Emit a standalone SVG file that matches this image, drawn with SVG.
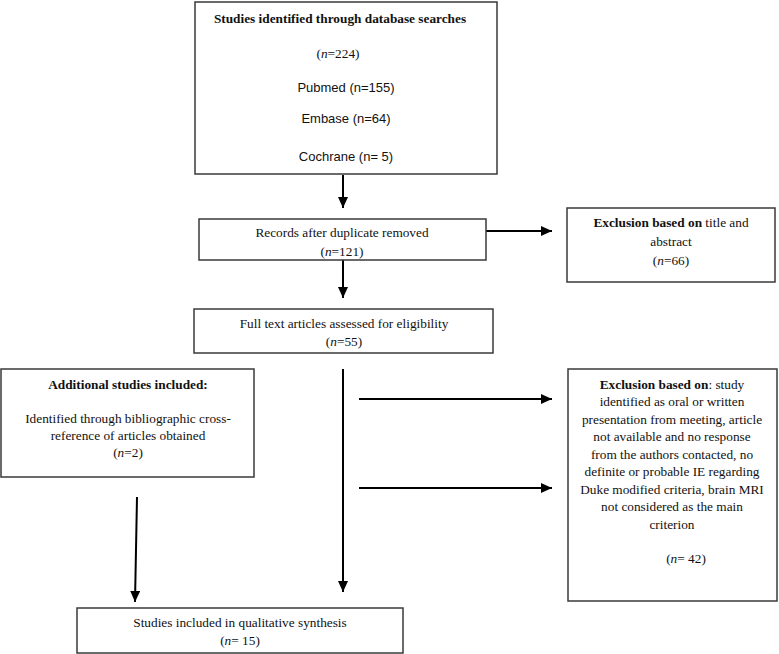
<svg xmlns="http://www.w3.org/2000/svg" width="779" height="654" viewBox="0 0 779 654">
<style>
.box{fill:#fff;stroke:#3a3a3a;stroke-width:1.5}
.t{font-family:"Liberation Serif","Times New Roman",serif;font-size:13.3px;fill:#111;text-anchor:middle}
.b{font-weight:bold}
.s{font-family:"Liberation Sans",Arial,sans-serif;font-size:13px;fill:#111;text-anchor:middle}
.c{stroke:#000;stroke-width:2;fill:none}
</style>
<defs>
<marker id="ah" markerUnits="userSpaceOnUse" markerWidth="11" markerHeight="10" refX="11" refY="5" orient="auto"><path d="M0,0 L11,5 L0,10 z" fill="#000"/></marker>
</defs>
<rect width="779" height="654" fill="#fff"/>
<g id="connectors">
<line class="c" x1="343" y1="175" x2="343" y2="208" marker-end="url(#ah)"/>
<line class="c" x1="486" y1="231" x2="552" y2="231" marker-end="url(#ah)"/>
<line class="c" x1="343" y1="260" x2="343" y2="298" marker-end="url(#ah)"/>
<line class="c" x1="343" y1="369" x2="343" y2="592" marker-end="url(#ah)"/>
<line class="c" x1="359" y1="399" x2="552" y2="399" marker-end="url(#ah)"/>
<line class="c" x1="359" y1="488" x2="552" y2="488" marker-end="url(#ah)"/>
<line class="c" x1="137" y1="497" x2="135" y2="602" marker-end="url(#ah)"/>
</g>
<g id="identified">
<rect class="box" x="195" y="2" width="302" height="172"/>
<text class="t b" x="340" y="23" font-size="13.8">Studies identified through database searches</text>
<text class="t" x="338" y="58">(<tspan font-style="italic">n</tspan>=224)</text>
<text class="s" x="346" y="92">Pubmed (n=155)</text>
<text class="s" x="346" y="123">Embase (n=64)</text>
<text class="s" x="346" y="161">Cochrane (n= 5)</text>
</g>
<g id="records">
<rect class="box" x="199" y="219" width="287" height="41"/>
<text class="t" x="342" y="237">Records after duplicate removed</text>
<text class="t" x="342" y="256">(<tspan font-style="italic">n</tspan>=121)</text>
</g>
<g id="exclusion-title">
<rect class="box" x="567" y="208" width="208" height="74"/>
<text class="t" x="671" y="227"><tspan class="b">Exclusion based on</tspan> title and</text>
<text class="t" x="671" y="246">abstract</text>
<text class="t" x="671" y="265">(<tspan font-style="italic">n</tspan>=66)</text>
</g>
<g id="fulltext">
<rect class="box" x="194" y="309" width="299" height="44"/>
<text class="t" x="344" y="328">Full text articles assessed for eligibility</text>
<text class="t" x="344" y="346">(<tspan font-style="italic">n</tspan>=55)</text>
</g>
<g id="additional">
<rect class="box" x="1" y="369" width="253" height="108"/>
<text class="t b" x="128" y="389">Additional studies included:</text>
<text class="t" x="128" y="423">Identified through bibliographic cross-</text>
<text class="t" x="128" y="440">reference of articles obtained</text>
<text class="t" x="128" y="457">(<tspan font-style="italic">n</tspan>=2)</text>
</g>
<g id="exclusion-full">
<rect class="box" x="568" y="369" width="209" height="232"/>
<text class="t" x="672" y="389"><tspan class="b">Exclusion based on</tspan>: study</text>
<text class="t" x="672" y="406">identified as oral or written</text>
<text class="t" x="672" y="424">presentation from meeting, article</text>
<text class="t" x="672" y="441">not available and no response</text>
<text class="t" x="672" y="459">from the authors contacted, no</text>
<text class="t" x="672" y="476">definite or probable IE regarding</text>
<text class="t" x="672" y="494">Duke modified criteria, brain MRI</text>
<text class="t" x="672" y="511">not considered as the main</text>
<text class="t" x="672" y="529">criterion</text>
<text class="t" x="686" y="563">(<tspan font-style="italic">n</tspan>= 42)</text>
</g>
<g id="included">
<rect class="box" x="77" y="608" width="326" height="45"/>
<text class="t" x="240" y="627">Studies included in qualitative synthesis</text>
<text class="t" x="240" y="645">(<tspan font-style="italic">n</tspan>= 15)</text>
</g>
</svg>
